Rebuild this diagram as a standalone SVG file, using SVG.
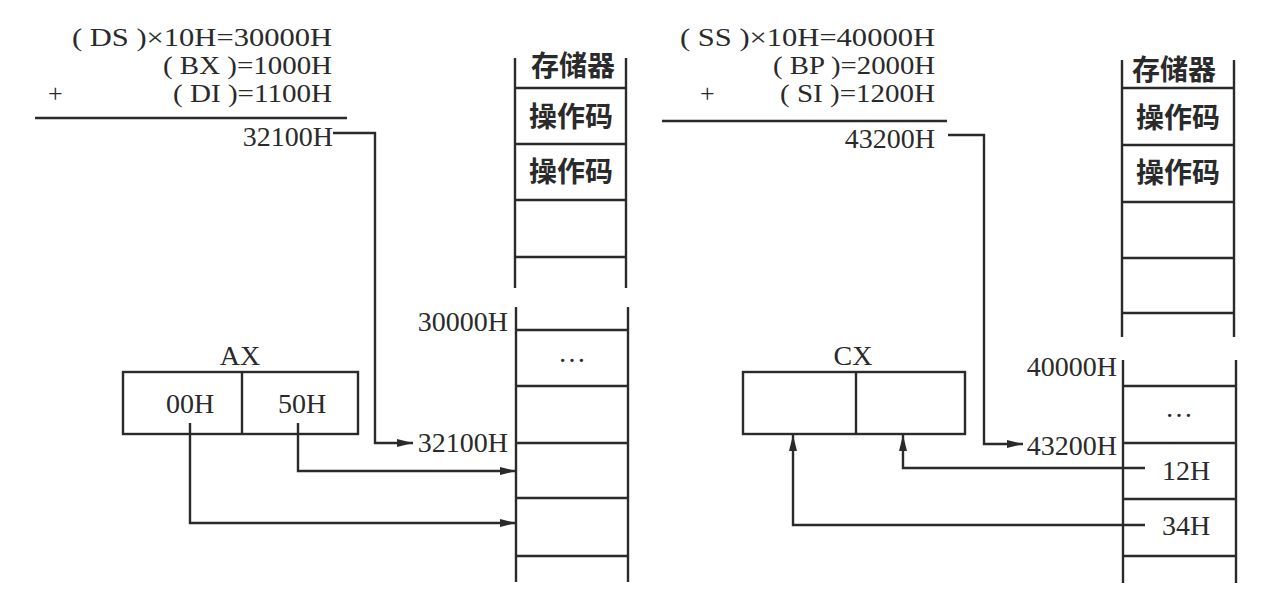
<svg xmlns="http://www.w3.org/2000/svg" width="1266" height="602" viewBox="0 0 1266 602">
<defs>
<marker id="arr" viewBox="0 0 16 10" refX="16" refY="5" markerWidth="16" markerHeight="10" markerUnits="userSpaceOnUse" orient="auto">
<path d="M0,1 L16,5 L0,9 Z" fill="#2a2a2a"/>
</marker>
<style>
.ln{stroke:#2a2a2a;stroke-width:2.4;fill:none}
.t{font-family:"Liberation Serif","Times New Roman",serif;font-size:28px;fill:#2a2a2a}
.f{font-family:"Liberation Serif","Times New Roman",serif;font-size:26px;fill:#2a2a2a}
.c{font-family:"Noto Sans CJK SC",sans-serif;font-size:28px;fill:#2a2a2a;text-anchor:middle;font-weight:bold}
.m{text-anchor:middle}
.e{text-anchor:end}
</style>
</defs>
<rect width="1266" height="602" fill="#ffffff"/>

<g id="formula-left">
<text class="f" x="72" y="46" textLength="260" lengthAdjust="spacingAndGlyphs" xml:space="preserve">( DS )×10H=30000H</text>
<text class="f" x="163" y="74" textLength="169" lengthAdjust="spacingAndGlyphs" xml:space="preserve">( BX )=1000H</text>
<text class="f" x="48" y="102">+</text>
<text class="f" x="173" y="102" textLength="159" lengthAdjust="spacingAndGlyphs" xml:space="preserve">( DI )=1100H</text>
<line class="ln" x1="35" y1="118" x2="347" y2="118"/>
<text class="t e" x="333" y="146">32100H</text>
</g>

<g id="formula-right">
<text class="f" x="680" y="46" textLength="255" lengthAdjust="spacingAndGlyphs" xml:space="preserve">( SS )×10H=40000H</text>
<text class="f" x="773" y="74" textLength="162" lengthAdjust="spacingAndGlyphs" xml:space="preserve">( BP )=2000H</text>
<text class="f" x="700" y="102">+</text>
<text class="f" x="780" y="102" textLength="155" lengthAdjust="spacingAndGlyphs" xml:space="preserve">( SI )=1200H</text>
<line class="ln" x1="662" y1="121" x2="947" y2="121"/>
<text class="t e" x="935" y="148">43200H</text>
</g>

<g id="memory-left">
<line class="ln" x1="515" y1="58" x2="515" y2="288"/>
<line class="ln" x1="626" y1="58" x2="626" y2="288"/>
<line class="ln" x1="515" y1="88" x2="626" y2="88"/>
<line class="ln" x1="515" y1="144" x2="626" y2="144"/>
<line class="ln" x1="515" y1="200" x2="626" y2="200"/>
<line class="ln" x1="515" y1="257" x2="626" y2="257"/>
<text class="c" x="573" y="76">存储器</text>
<text class="c" x="571" y="127">操作码</text>
<text class="c" x="571" y="182">操作码</text>
<line class="ln" x1="516" y1="307" x2="516" y2="582"/>
<line class="ln" x1="628" y1="307" x2="628" y2="582"/>
<line class="ln" x1="516" y1="330" x2="628" y2="330"/>
<line class="ln" x1="516" y1="386" x2="628" y2="386"/>
<line class="ln" x1="516" y1="443" x2="628" y2="443"/>
<line class="ln" x1="516" y1="498" x2="628" y2="498"/>
<line class="ln" x1="516" y1="556" x2="628" y2="556"/>
<text class="t m" x="572" y="362">…</text>
<text class="t e" x="508" y="331">30000H</text>
<text class="t e" x="508" y="452">32100H</text>
</g>

<g id="memory-right">
<line class="ln" x1="1122" y1="60" x2="1122" y2="337"/>
<line class="ln" x1="1234" y1="60" x2="1234" y2="337"/>
<line class="ln" x1="1122" y1="88" x2="1234" y2="88"/>
<line class="ln" x1="1122" y1="145" x2="1234" y2="145"/>
<line class="ln" x1="1122" y1="202" x2="1234" y2="202"/>
<line class="ln" x1="1122" y1="258" x2="1234" y2="258"/>
<line class="ln" x1="1122" y1="313" x2="1234" y2="313"/>
<text class="c" x="1174" y="80">存储器</text>
<text class="c" x="1178" y="128">操作码</text>
<text class="c" x="1178" y="183">操作码</text>
<line class="ln" x1="1123" y1="360" x2="1123" y2="583"/>
<line class="ln" x1="1236" y1="360" x2="1236" y2="583"/>
<line class="ln" x1="1123" y1="386" x2="1236" y2="386"/>
<line class="ln" x1="1123" y1="443" x2="1236" y2="443"/>
<line class="ln" x1="1123" y1="499" x2="1236" y2="499"/>
<line class="ln" x1="1123" y1="556" x2="1236" y2="556"/>
<text class="t m" x="1179" y="417">…</text>
<text class="t m" x="1186" y="480">12H</text>
<text class="t m" x="1186" y="535">34H</text>
<text class="t e" x="1117" y="376">40000H</text>
<text class="t e" x="1117" y="455">43200H</text>
</g>

<g id="AX">
<text class="t m" x="240" y="365">AX</text>
<rect class="ln" x="123" y="372" width="235" height="62"/>
<line class="ln" x1="242" y1="372" x2="242" y2="434"/>
<text class="t m" x="190" y="413">00H</text>
<text class="t m" x="302" y="413">50H</text>
</g>

<g id="CX">
<text class="t m" x="853" y="365">CX</text>
<rect class="ln" x="743" y="372" width="222" height="62"/>
<line class="ln" x1="856" y1="372" x2="856" y2="434"/>
</g>

<g id="connectors">
<polyline class="ln" points="333,133 375,133 375,443 413,443" marker-end="url(#arr)"/>
<polyline class="ln" points="298,423 298,471 516,471" marker-end="url(#arr)"/>
<polyline class="ln" points="190,423 190,523 516,523" marker-end="url(#arr)"/>
<polyline class="ln" points="948,135 984,135 984,444 1023,444" marker-end="url(#arr)"/>
<polyline class="ln" points="1145,468 903,468 903,435" marker-end="url(#arr)"/>
<polyline class="ln" points="1145,525 793,525 793,435" marker-end="url(#arr)"/>
</g>
</svg>
